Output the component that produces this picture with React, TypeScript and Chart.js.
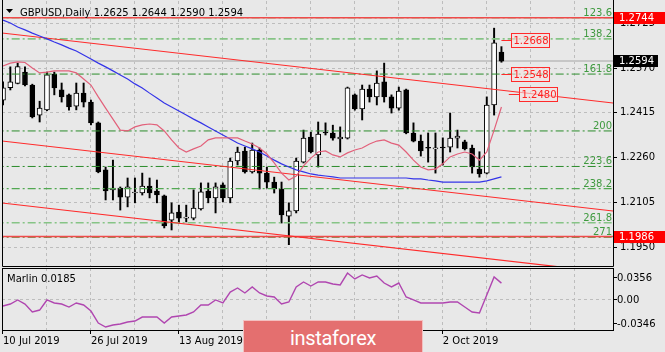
import React, { useEffect, useRef } from 'react';
import { Chart, registerables } from 'chart.js';

Chart.register(...registerables);

const FONT = '"DejaVu Sans", Verdana, sans-serif';
const BG = '#e8e8e8';

// ---- data (bar index 0 = 10 Jul 2019) ----
const titleText = 'GBPUSD,Daily 1.2625 1.2644 1.2590 1.2594';

const opens = [
  1.2459, 1.2502, 1.2517, 1.2556, 1.2511, 1.2407, 1.2425, 1.2549, 1.2494, 1.2477,
  1.2438, 1.2483, 1.2452, 1.2380, 1.2217, 1.2148, 1.2154, 1.2123, 1.2137, 1.2137,
  1.2161, 1.2144, 1.2127, 1.2043, 1.2071, 1.2050, 1.2050, 1.2082, 1.2144, 1.2120,
  1.2165, 1.2120, 1.2248, 1.2282, 1.2210, 1.2286, 1.2206, 1.2175, 1.2151, 1.2057,
  1.2075, 1.2244, 1.2331, 1.2269, 1.2348, 1.2345, 1.2324, 1.2327, 1.2477, 1.2428,
  1.2497, 1.2470, 1.2522, 1.2470, 1.2431, 1.2494, 1.2345, 1.2317, 1.2294, 1.2290,
  1.2296, 1.2296, 1.2327, 1.2314, 1.2293, 1.2220, 1.2206, 1.2442, 1.2625,
];
const highs = [
  1.2522, 1.2574, 1.2587, 1.2574, 1.2514, 1.2455, 1.2556, 1.2556, 1.2518, 1.2480,
  1.2518, 1.2518, 1.2459, 1.2383, 1.2227, 1.2251, 1.2158, 1.2189, 1.2189, 1.2206,
  1.2189, 1.2182, 1.2130, 1.2103, 1.2095, 1.2095, 1.2148, 1.2172, 1.2172, 1.2172,
  1.2172, 1.2258, 1.2296, 1.2296, 1.2310, 1.2293, 1.2227, 1.2192, 1.2175, 1.2103,
  1.2258, 1.2355, 1.2348, 1.2383, 1.2380, 1.2372, 1.2366, 1.2504, 1.2480, 1.2511,
  1.2511, 1.2560, 1.2587, 1.2477, 1.2504, 1.2497, 1.2380, 1.2338, 1.2345, 1.2345,
  1.2328, 1.2414, 1.2355, 1.2320, 1.2303, 1.2280, 1.2470, 1.2708, 1.2644,
];
const lows = [
  1.2442, 1.2494, 1.2515, 1.2508, 1.2397, 1.2383, 1.2422, 1.2477, 1.2452, 1.2424,
  1.2425, 1.2435, 1.2373, 1.2207, 1.2113, 1.2113, 1.2078, 1.2089, 1.2103, 1.2130,
  1.2120, 1.2103, 1.2016, 1.2009, 1.2033, 1.2037, 1.2044, 1.2078, 1.2103, 1.2068,
  1.2106, 1.2103, 1.2234, 1.2206, 1.2206, 1.2151, 1.2154, 1.2137, 1.2033, 1.1958,
  1.2068, 1.2241, 1.2276, 1.2227, 1.2338, 1.2320, 1.2279, 1.2324, 1.2424, 1.2390,
  1.2452, 1.2442, 1.2452, 1.2414, 1.2424, 1.2342, 1.2314, 1.2265, 1.2244, 1.2206,
  1.2234, 1.2279, 1.2293, 1.2286, 1.2206, 1.2192, 1.2203, 1.2407, 1.2590,
];
const closes = [
  1.2501, 1.2522, 1.2575, 1.2511, 1.2401, 1.2431, 1.2546, 1.2501, 1.2470, 1.2435,
  1.2483, 1.2452, 1.2380, 1.2210, 1.2144, 1.2154, 1.2123, 1.2158, 1.2140, 1.2161,
  1.2137, 1.2130, 1.2023, 1.2068, 1.2050, 1.2052, 1.2085, 1.2141, 1.2120, 1.2158,
  1.2120, 1.2248, 1.2279, 1.2210, 1.2286, 1.2206, 1.2175, 1.2151, 1.2061, 1.2075,
  1.2248, 1.2327, 1.2279, 1.2341, 1.2345, 1.2327, 1.2331, 1.2501, 1.2428, 1.2497,
  1.2470, 1.2518, 1.2470, 1.2431, 1.2490, 1.2345, 1.2317, 1.2283, 1.2292, 1.2293,
  1.2293, 1.2327, 1.2334, 1.2290, 1.2227, 1.2203, 1.2442, 1.2657, 1.2594,
];
const fastMA = [
  1.2577, 1.2587, 1.2591, 1.2589, 1.2570, 1.2553, 1.2556, 1.2560, 1.2560, 1.2560,
  1.2553, 1.2532, 1.2511, 1.2470, 1.2431, 1.2393, 1.2355, 1.2352, 1.2366, 1.2373,
  1.2376, 1.2373, 1.2352, 1.2321, 1.2293, 1.2279, 1.2290, 1.2300, 1.2321, 1.2328,
  1.2328, 1.2328, 1.2328, 1.2317, 1.2307, 1.2293, 1.2272, 1.2241, 1.2206, 1.2182,
  1.2196, 1.2231, 1.2258, 1.2279, 1.2283, 1.2269, 1.2262, 1.2276, 1.2286, 1.2293,
  1.2307, 1.2317, 1.2321, 1.2310, 1.2303, 1.2279, 1.2251, 1.2227, 1.2217, 1.2220,
  1.2238, 1.2262, 1.2272, 1.2279, 1.2272, 1.2251, 1.2279, 1.2355, 1.2435,
];
const slowMA = [
  1.2736, 1.2726, 1.2712, 1.2702, 1.2691, 1.2681, 1.2671, 1.2660, 1.2650, 1.2639,
  1.2629, 1.2615, 1.2601, 1.2587, 1.2574, 1.2560, 1.2546, 1.2532, 1.2515, 1.2501,
  1.2483, 1.2466, 1.2449, 1.2435, 1.2421, 1.2407, 1.2393, 1.2380, 1.2366, 1.2352,
  1.2338, 1.2324, 1.2310, 1.2300, 1.2290, 1.2279, 1.2265, 1.2251, 1.2238, 1.2227,
  1.2217, 1.2210, 1.2203, 1.2199, 1.2196, 1.2193, 1.2189, 1.2189, 1.2189, 1.2189,
  1.2189, 1.2189, 1.2189, 1.2189, 1.2189, 1.2189, 1.2186, 1.2186, 1.2182, 1.2179,
  1.2175, 1.2175, 1.2175, 1.2175, 1.2175, 1.2175, 1.2179, 1.2186, 1.2193,
];
const marlin = [
  -0.0074, -0.0052, -0.0006, -0.0052, -0.0142, -0.0120, -0.0006, -0.0040, -0.0052, -0.0086,
  -0.0040, -0.0063, -0.0131, -0.0267, -0.0312, -0.0289, -0.0278, -0.0255, -0.0244, -0.0199,
  -0.0199, -0.0199, -0.0267, -0.0199, -0.0187, -0.0176, -0.0142, -0.0063, -0.0063, -0.0006,
  -0.0040, 0.0084, 0.0130, 0.0073, 0.0141, 0.0073, 0.0039, 0.0028, -0.0052, -0.0029,
  0.0141, 0.0198, 0.0152, 0.0198, 0.0198, 0.0175, 0.0164, 0.0299, 0.0232, 0.0277,
  0.0243, 0.0265, 0.0186, 0.0141, 0.0186, 0.0028, -0.0006, -0.0040, -0.0040, -0.0040,
  -0.0040, -0.0029, -0.0029, -0.0086, -0.0142, -0.0153, 0.0050, 0.0254, 0.0185,
];
const marlinName = 'Marlin';
const marlinLast = '0.0185';

const priceTicks = [1.195, 1.2105, 1.226, 1.2415, 1.257, 1.2725];
const marlinTicks = [-0.0346, 0, 0.0356];
const marlinTickLabels = ['-0.0346', '0.00', '0.0356'];
const dateTickIdx = [0, 12, 24, 36, 48, 60];
const dateTickLabels = ['10 Jul 2019', '26 Jul 2019', '13 Aug 2019', '29 Aug 2019', '16 Sep 2019', '2 Oct 2019'];

const fibLabels = ['123.6', '138.2', '161.8', '200', '223.6', '238.2', '261.8', '271'];
const fibPrices = [1.2744, 1.2671, 1.2549, 1.2352, 1.2229, 1.2152, 1.2034, 1.1984];
const fibStyles = ['light', 'light', 'dark', 'dark', 'dark', 'mid', 'light', 'olive'];

const levelPrices = [1.2744, 1.1986];
const channelX = [-1, 84];
const channelUpper = [1.26938, 1.24465];
const channelMiddle = [1.23197, 1.20724];
const channelLower = [1.2105, 1.18577];

const priceBoxes = [1.2668, 1.2548, 1.248];
const priceBoxAnchor = [68, 68, 69];
const lastPrice = 1.2594;

// scale ranges
const XMIN = -0.136;
const XMAX = 83.22;
const YMIN = 1.18842;
const YMAX = 1.28021;
const MMIN = -0.0346;
const MMAX = 0.0356;

const GRID = '#bdbdbd';
const gridIdx: number[] = [];
for (let v = 0; v <= XMAX; v += 6) gridIdx.push(v);

const fibColor: Record<string, [string, number]> = {
  light: ['#86c486', 1.6],
  dark: ['#2a8c2a', 1],
  mid: ['#52a852', 1.3],
  olive: ['#5c6e1e', 1],
};

function hLine(p: number, color: string, width: number, dash: number[] = []) {
  return {
    type: 'line' as const,
    data: channelX.map((x) => ({ x, y: p })),
    borderColor: color,
    borderWidth: width,
    borderDash: dash,
    pointRadius: 0,
    order: 0,
  };
}

function segLine(ys: number[], color: string, width: number) {
  return {
    type: 'line' as const,
    data: channelX.map((x, i) => ({ x, y: ys[i] })),
    borderColor: color,
    borderWidth: width,
    pointRadius: 0,
    order: 0,
  };
}

const mainDecor = {
  id: 'mainDecor',
  beforeDatasetsDraw(chart: any) {
    const { ctx, chartArea: a, scales } = chart;
    const py = Math.round(scales.y.getPixelForValue(lastPrice));
    ctx.save();
    ctx.strokeStyle = '#c6c6c6';
    ctx.lineWidth = 2;
    ctx.beginPath();
    ctx.moveTo(a.left, py);
    ctx.lineTo(a.right, py);
    ctx.stroke();
    ctx.restore();
  },
  afterDraw(chart: any) {
    const { ctx, chartArea: a, scales } = chart;
    const x = scales.x;
    const y = scales.y;
    ctx.save();
    // frame
    ctx.strokeStyle = '#000';
    ctx.lineWidth = 1;
    ctx.beginPath();
    ctx.moveTo(a.left + 0.5, 0);
    ctx.lineTo(a.left + 0.5, a.bottom + 0.5);
    ctx.lineTo(a.right + 0.5, a.bottom + 0.5);
    ctx.lineTo(a.right + 0.5, 0);
    ctx.stroke();

    // fib labels
    ctx.font = `10px ${FONT}`;
    ctx.fillStyle = '#3f9a3f';
    ctx.textAlign = 'right';
    ctx.textBaseline = 'alphabetic';
    fibLabels.forEach((t, i) => {
      const py = y.getPixelForValue(fibPrices[i]);
      ctx.fillText(t, a.right - 1, py - 2);
    });

    // price boxes
    ctx.textAlign = 'left';
    ctx.textBaseline = 'middle';
    priceBoxes.forEach((p, i) => {
      const py = Math.round(y.getPixelForValue(p)) + 0.5;
      const x0 = x.getPixelForValue(priceBoxAnchor[i]);
      const bx = Math.round(x0 + 10) + 0.5;
      const label = p.toFixed(4);
      const w = Math.round(ctx.measureText(label).width) + 3;
      ctx.strokeStyle = '#ff2a2a';
      ctx.lineWidth = 1;
      ctx.beginPath();
      ctx.moveTo(x0, py);
      ctx.lineTo(bx, py);
      ctx.stroke();
      ctx.fillStyle = 'rgba(245,225,225,0.6)';
      ctx.fillRect(bx, py - 7, w, 14);
      ctx.strokeRect(bx, py - 7, w, 14);
      ctx.fillStyle = '#ff2020';
      ctx.fillText(label, bx + 2, py + 0.5);
    });

    // axis boxes
    const axisBox = (p: number, bg: string, w: number) => {
      const py = Math.round(y.getPixelForValue(p));
      ctx.fillStyle = bg;
      ctx.fillRect(a.right + 1, py - 6, w, 12);
      ctx.fillStyle = '#fff';
      ctx.textAlign = 'left';
      ctx.textBaseline = 'middle';
      ctx.fillText(p.toFixed(4), a.right + 6, py + 0.5);
    };
    axisBox(levelPrices[0], '#ff0000', 52);
    axisBox(levelPrices[1], '#ff0000', 52);
    axisBox(lastPrice, '#000000', 44);

    // title
    ctx.fillStyle = '#000';
    ctx.beginPath();
    ctx.moveTo(6, 9);
    ctx.lineTo(13, 9);
    ctx.lineTo(9.5, 13);
    ctx.closePath();
    ctx.fill();
    ctx.textAlign = 'left';
    ctx.textBaseline = 'alphabetic';
    ctx.fillText(titleText, 20, 16);
    ctx.restore();
  },
};

const subDecor = {
  id: 'subDecor',
  afterDraw(chart: any) {
    const { ctx, chartArea: a, scales } = chart;
    const y = scales.y;
    ctx.save();
    ctx.strokeStyle = '#000';
    ctx.lineWidth = 1;
    ctx.strokeRect(a.left + 0.5, a.top + 0.5, a.right - a.left, a.bottom - a.top);
    ctx.font = `10px ${FONT}`;
    ctx.fillStyle = '#000';
    ctx.textAlign = 'left';
    ctx.textBaseline = 'alphabetic';
    ctx.fillText(`${marlinName} ${marlinLast}`, 7, 15);
    ctx.textBaseline = 'middle';
    marlinTicks.forEach((v, i) => {
      const raw = y.getPixelForValue(v);
      const py = Math.round(Math.min(Math.max(raw, a.top + 9), a.bottom - 7));
      ctx.beginPath();
      ctx.moveTo(a.right, py + 0.5);
      ctx.lineTo(a.right + 4, py + 0.5);
      ctx.stroke();
      ctx.fillText(marlinTickLabels[i], a.right + 4, py + 1);
    });
    ctx.restore();
  },
};

export default function App() {
  const mainRef = useRef<HTMLCanvasElement>(null);
  const subRef = useRef<HTMLCanvasElement>(null);

  useEffect(() => {
    Chart.defaults.font.family = FONT;
    Chart.defaults.font.size = 10;
    Chart.defaults.color = '#000';

    const wickData = highs.map((h, i) => ({ x: i, y: [lows[i], h] }));
    const bodyData = opens.map((o, i) => ({ x: i, y: [o, closes[i]] }));
    const bodyColors = opens.map((o, i) => (closes[i] >= o ? '#ffffff' : '#000000'));

    const datasets: any[] = [
      {
        type: 'line',
        data: fastMA.map((v, i) => ({ x: i, y: v })),
        borderColor: '#e2607a',
        borderWidth: 1.2,
        pointRadius: 0,
        order: 0,
      },
      {
        type: 'line',
        data: slowMA.map((v, i) => ({ x: i, y: v })),
        borderColor: '#3434e8',
        borderWidth: 1.2,
        pointRadius: 0,
        order: 0,
      },
      segLine(channelUpper, '#ff2a2a', 1.2),
      segLine(channelMiddle, '#ff2a2a', 1.2),
      segLine(channelLower, '#ff2a2a', 1.2),
      hLine(levelPrices[0], '#f04a4a', 1.5),
      hLine(levelPrices[1], '#f04a4a', 1.5),
      ...fibPrices.map((p, i) => {
        const [c, w] = fibColor[fibStyles[i]];
        return hLine(p, c, w, [8, 3, 2, 3]);
      }),
      {
        type: 'bar',
        data: bodyData,
        backgroundColor: bodyColors,
        borderColor: '#000',
        borderWidth: 1,
        borderSkipped: false,
        barThickness: 5,
        minBarLength: 1,
        grouped: false,
        order: 1,
      },
      {
        type: 'bar',
        data: wickData,
        backgroundColor: '#000',
        borderWidth: 0,
        barThickness: 1.3,
        grouped: false,
        order: 2,
      },
    ];

    const main = new Chart(mainRef.current!, {
      type: 'bar',
      data: { datasets },
      plugins: [mainDecor],
      options: {
        responsive: false,
        animation: false,
        events: [],
        layout: { padding: { left: 2, top: 1, right: 0, bottom: 0 } },
        plugins: { legend: { display: false }, tooltip: { enabled: false } },
        scales: {
          x: {
            type: 'linear',
            min: XMIN,
            max: XMAX,
            offset: false,
            ticks: { display: false },
            grid: { color: GRID, drawTicks: false, offset: false },
            border: { display: false, dash: [3, 3] },
            afterBuildTicks: (s: any) => {
              s.ticks = gridIdx.map((v) => ({ value: v }));
            },
            afterFit: (s: any) => {
              s.height = 1;
              s.paddingLeft = 0;
              s.paddingRight = 0;
              s.paddingTop = 0;
              s.paddingBottom = 0;
            },
          },
          y: {
            type: 'linear',
            position: 'right',
            min: YMIN,
            max: YMAX,
            ticks: {
              padding: 3,
              color: '#000',
              callback: (v: any) => Number(v).toFixed(4),
            },
            grid: {
              color: GRID,
              tickColor: '#000',
              tickLength: 4,
              tickWidth: 1,
              tickBorderDash: [],
            },
            border: { display: false, dash: [3, 3] },
            afterBuildTicks: (s: any) => {
              s.ticks = priceTicks.map((v) => ({ value: v }));
            },
            afterFit: (s: any) => {
              s.width = 52;
              s.paddingTop = 0;
              s.paddingBottom = 0;
              s.paddingLeft = 0;
              s.paddingRight = 0;
            },
          },
        },
      } as any,
    });

    const sub = new Chart(subRef.current!, {
      type: 'line',
      data: {
        datasets: [
          {
            data: marlin.map((v, i) => ({ x: i, y: v })),
            borderColor: '#b046b0',
            borderWidth: 1.4,
            pointRadius: 0,
          },
        ],
      },
      plugins: [subDecor],
      options: {
        responsive: false,
        animation: false,
        events: [],
        layout: { padding: { left: 2, top: 1, right: 0, bottom: 0 } },
        plugins: { legend: { display: false }, tooltip: { enabled: false } },
        scales: {
          x: {
            type: 'linear',
            min: XMIN,
            max: XMAX,
            offset: false,
            ticks: {
              autoSkip: false,
              maxRotation: 0,
              align: 'start',
              padding: 1,
              color: '#000',
              callback: (v: any) => {
                const k = dateTickIdx.indexOf(Number(v));
                return k >= 0 ? dateTickLabels[k] : '';
              },
            },
            grid: {
              color: GRID,
              tickLength: 4,
              tickBorderDash: [],
              tickColor: (c: any) =>
                c.tick && dateTickIdx.indexOf(c.tick.value) >= 0 ? '#000' : 'rgba(0,0,0,0)',
            },
            border: { display: false, dash: [3, 3] },
            afterBuildTicks: (s: any) => {
              s.ticks = gridIdx.map((v) => ({ value: v }));
            },
            afterFit: (s: any) => {
              s.height = 22;
              s.paddingLeft = 0;
              s.paddingRight = 0;
              s.paddingTop = 0;
              s.paddingBottom = 0;
            },
          },
          y: {
            type: 'linear',
            position: 'right',
            min: MMIN,
            max: MMAX,
            ticks: { display: false },
            grid: {
              drawTicks: false,
              color: (c: any) => (c.tick && c.tick.value === 0 ? GRID : 'rgba(0,0,0,0)'),
            },
            border: { display: false, dash: [3, 3] },
            afterBuildTicks: (s: any) => {
              s.ticks = marlinTicks.map((v) => ({ value: v }));
            },
            afterFit: (s: any) => {
              s.width = 52;
              s.paddingTop = 0;
              s.paddingBottom = 0;
              s.paddingLeft = 0;
              s.paddingRight = 0;
            },
          },
        },
      } as any,
    });

    return () => {
      main.destroy();
      sub.destroy();
    };
  }, []);

  return (
    <div
      style={{
        position: 'fixed',
        left: 0,
        top: 0,
        width: 665,
        height: 352,
        background: BG,
        overflow: 'hidden',
      }}
    >
      <canvas ref={mainRef} width={665} height={267} style={{ position: 'absolute', left: 0, top: 0 }} />
      <canvas ref={subRef} width={665} height={85} style={{ position: 'absolute', left: 0, top: 267 }} />
      <div
        style={{
          position: 'absolute',
          left: 243,
          top: 320,
          width: 180,
          height: 32,
          boxSizing: 'border-box',
          background: '#e46f6f',
          border: '1px solid #f3c0c0',
          borderBottom: 'none',
          color: '#fff',
          fontFamily: 'Roboto, "Open Sans", sans-serif',
          fontSize: 20,
          letterSpacing: -0.3,
          display: 'flex',
          alignItems: 'center',
          justifyContent: 'center',
          paddingTop: 2,
        }}
      >
        instaforex
      </div>
    </div>
  );
}
